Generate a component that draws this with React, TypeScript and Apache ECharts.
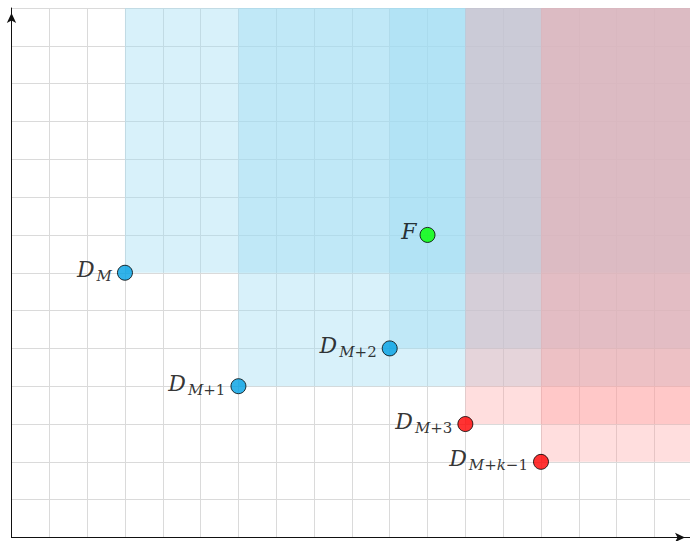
import React, { useEffect, useRef } from "react";
import * as echarts from "echarts";

// Axis extents (data units)
const X_MAX = 17.94;
const Y_MAX = 14;

// Points
const pointMain = ["D", "D", "D", "F", "D", "D"];
const pointSub = ["M", "M+1", "M+2", "", "M+3", "M+k−1"];
const pointX = [3, 6, 10, 11, 12, 14];
const pointY = [7, 4, 5, 8, 3, 2];
const pointKind = ["blue", "blue", "blue", "green", "red", "red"];

const markerColor: Record<string, string> = {
  blue: "#00A0E4",
  green: "#00FF00",
  red: "#FF0000",
};
const regionColor: Record<string, string> = {
  blue: "rgba(157,220,242,0.4)",
  red: "rgba(255,155,155,0.33)",
};

const FONT = "'DejaVu Serif', 'Liberation Serif', serif";

function buildLabel(main: string, sub: string): string {
  let s = `{d|${main}}`;
  if (!sub) return s;
  const parts = sub.match(/[A-Za-z]+|[^A-Za-z]+/g) || [];
  parts.forEach((p, idx) => {
    const italic = /[A-Za-z]/.test(p);
    const key = (italic ? "si" : "su") + (idx === 0 ? "0" : "");
    s += `{${key}|${p}}`;
  });
  return s;
}

export default function App() {
  const ref = useRef<HTMLDivElement>(null);

  useEffect(() => {
    if (!ref.current) return;
    const chart = echarts.init(ref.current, null, { renderer: "svg" });

    const regionData = (kind: string) =>
      pointX
        .map((x, i) => ({ x, y: pointY[i], k: pointKind[i] }))
        .filter((p) => p.k === kind)
        .map((p) => [p.x, p.y]);

    const makeRegionSeries = (kind: string, z: number) => ({
      type: "custom",
      z,
      silent: true,
      data: regionData(kind),
      encode: { x: 0, y: 1 },
      renderItem: (params: any, api: any) => {
        const p0 = api.coord([api.value(0), api.value(1)]);
        const p1 = api.coord([X_MAX, Y_MAX]);
        return {
          type: "rect",
          shape: {
            x: p0[0],
            y: p1[1],
            width: p1[0] - p0[0],
            height: p0[1] - p1[1],
          },
          style: { fill: regionColor[kind], stroke: "none" },
        };
      },
    });

    const axisCommon = {
      type: "value",
      min: 0,
      interval: 1,
      axisLabel: { show: false },
      axisTick: { show: false },
      splitLine: { show: true, lineStyle: { color: "#dadada", width: 1 } },
      axisLine: {
        show: true,
        onZero: false,
        symbol: ["none", "arrow"],
        symbolSize: [7, 10],
        symbolOffset: [0, -5],
        lineStyle: { color: "#111", width: 1 },
      },
    };

    const subBase = {
      fontFamily: FONT,
      fontSize: 15,
      lineHeight: 15,
      color: "#000",
    };

    const rich = {
      d: {
        fontFamily: FONT,
        fontStyle: "italic",
        fontSize: 22,
        lineHeight: 22,
        padding: [0, 0, 6, 0],
        color: "#000",
      },
      si0: { ...subBase, fontStyle: "italic", padding: [7, 0, 0, 2] },
      si: { ...subBase, fontStyle: "italic", padding: [7, 0, 0, 0] },
      su: { ...subBase, fontStyle: "normal", padding: [7, 0, 0, 0] },
    };

    const option: any = {
      animation: false,
      backgroundColor: "#fff",
      grid: { left: 11.5, top: 8, right: 0, bottom: 3.5, containLabel: false },
      xAxis: { ...axisCommon, max: X_MAX },
      yAxis: { ...axisCommon, max: Y_MAX },
      series: [
        makeRegionSeries("blue", 1),
        makeRegionSeries("red", 2),
        {
          type: "scatter",
          z: 5,
          symbolSize: 15,
          data: pointX.map((x, i) => ({
            value: [x, pointY[i]],
            name: pointMain[i] + pointSub[i],
            itemStyle: {
              color: markerColor[pointKind[i]],
              borderColor: "#000",
              borderWidth: 1,
            },
            label: {
              show: true,
              position: "left",
              distance: pointSub[i] ? 5 : 3,
              formatter: buildLabel(pointMain[i], pointSub[i]),
              rich,
            },
          })),
        },
      ],
    };

    chart.setOption(option);
    return () => chart.dispose();
  }, []);

  return (
    <div
      ref={ref}
      style={{ position: "fixed", left: 0, top: 0, width: 690, height: 541 }}
    />
  );
}
